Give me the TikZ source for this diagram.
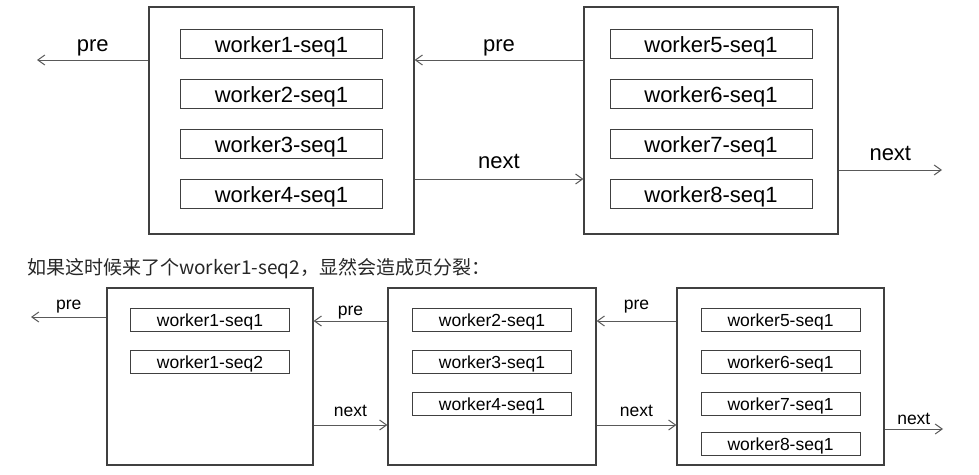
\documentclass[tikz,border=0pt]{standalone}
\usepackage{fontspec}
\setmainfont{Liberation Sans}
\newfontfamily\cjk{Noto Sans CJK SC}
\usetikzlibrary{arrows.meta, positioning}

\begin{document}
\begin{tikzpicture}[
  x=1pt, y=-1pt,
  page/.style={draw=black!75, line width=1.2pt, minimum height=227pt},
  spage/.style={draw=black!75, line width=1.2pt, minimum height=177pt},
  rec/.style={draw=black!75, line width=1pt, minimum width=202pt, minimum height=29pt,
              inner sep=0pt, text depth=0pt, font=\fontsize{22}{22}\selectfont},
  srec/.style={draw=black!75, line width=1pt, minimum width=159pt, minimum height=23pt,
               inner sep=0pt, text depth=0pt, font=\fontsize{17.5}{17.5}\selectfont},
  arrow/.style={-{Straight Barb[length=7pt,width=10pt]}, draw=black!65, line width=1pt},
  lbl/.style={midway, above, inner sep=3pt, font=\fontsize{22}{22}\selectfont},
  slbl/.style={midway, above, inner sep=3pt, font=\fontsize{17.5}{17.5}\selectfont}
]
\useasboundingbox (0,0) rectangle (979,474);

% before the split
\node[page, minimum width=265pt] (pA) at (281.5,120.5) {};
\node[page, minimum width=254pt] (pB) at (711,120.5) {};

\node[rec, below=23pt of pA.north] (a1) {worker1-seq1};
\node[rec, below=20pt of a1] (a2) {worker2-seq1};
\node[rec, below=20pt of a2] (a3) {worker3-seq1};
\node[rec, below=20pt of a3] (a4) {worker4-seq1};

\node[rec, below=23pt of pB.north] (b5) {worker5-seq1};
\node[rec, below=20pt of b5] (b6) {worker6-seq1};
\node[rec, below=20pt of b6] (b7) {worker7-seq1};
\node[rec, below=20pt of b7] (b8) {worker8-seq1};

\coordinate (preA) at (37,60);
\coordinate (nextB) at (942,170);

\draw[arrow] (pA.west |- preA) -- node[lbl]{pre} (preA);
\draw[arrow] ([yshift=60.5pt]pB.west) -- node[lbl]{pre} ([yshift=60.5pt]pA.east);
\draw[arrow] ([yshift=-58.5pt]pA.east) -- node[lbl, inner sep=10pt]{next} ([yshift=-58.5pt]pB.west);
\draw[arrow] (pB.east |- nextB) -- node[lbl, inner sep=9pt]{next} (nextB);

\node[anchor=west, inner sep=0pt, text=black!85,
      font=\cjk\fontsize{19}{19}\selectfont] (note) at (27,269)
  {如果这时候来了个worker1-seq2，显然会造成页分裂：};

% after the split
\node[spage, minimum width=206pt] (q1) at (210,376.5) {};
\node[spage, minimum width=208pt] (q2) at (492,376.5) {};
\node[spage, minimum width=207pt] (q3) at (780.5,376.5) {};

\node[srec, below=21pt of q1.north] (c1) {worker1-seq1};
\node[srec, below=18pt of c1] (c2) {worker1-seq2};

\node[srec, below=21pt of q2.north] (d2) {worker2-seq1};
\node[srec, below=18pt of d2] (d3) {worker3-seq1};
\node[srec, below=18pt of d3] (d4) {worker4-seq1};

\node[srec, below=21pt of q3.north] (e5) {worker5-seq1};
\node[srec, below=18pt of e5] (e6) {worker6-seq1};
\node[srec, below=18pt of e6] (e7) {worker7-seq1};
\node[srec, below=16pt of e7] (e8) {worker8-seq1};

\coordinate (preQ) at (31,317);
\coordinate (nextQ) at (943,429);

\draw[arrow] (q1.west |- preQ) -- node[slbl]{pre} (preQ);
\draw[arrow] ([yshift=55.5pt]q2.west) -- node[slbl, inner sep=1pt]{pre} ([yshift=55.5pt]q1.east);
\draw[arrow] ([yshift=55.5pt]q3.west) -- node[slbl, inner sep=7pt]{pre} ([yshift=55.5pt]q2.east);
\draw[arrow] ([yshift=-48.5pt]q1.east) -- node[slbl, inner sep=8pt]{next} ([yshift=-48.5pt]q2.west);
\draw[arrow] ([yshift=-48.5pt]q2.east) -- node[slbl, inner sep=8pt]{next} ([yshift=-48.5pt]q3.west);
\draw[arrow] (q3.east |- nextQ) -- node[slbl, inner sep=4pt]{next} (nextQ);
\end{tikzpicture}
\end{document}
